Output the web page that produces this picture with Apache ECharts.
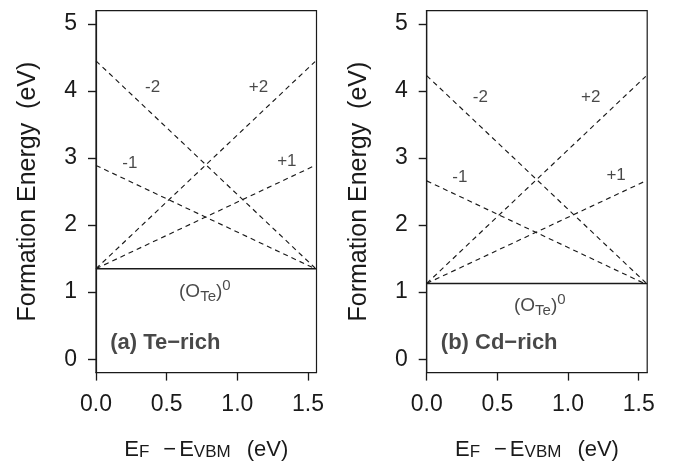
<!DOCTYPE html>
<html>
<head>
<meta charset="utf-8">
<script src="https://cdn.jsdelivr.net/npm/echarts@6/dist/echarts.min.js"></script>
<style>html,body{margin:0;padding:0;background:#fff}#c{width:689px;height:461px}</style>
</head>
<body>
<div id="c"></div>
<script>
// ---- data ----
const xTicks = [0, 0.5, 1.0, 1.5];
const yTicks = [0, 1, 2, 3, 4, 5];
const panelTitles = ['(a) Te\u2212rich', '(b) Cd\u2212rich'];

// Panel (a) Te-rich: [E_F, formation energy]
const teNeutral = [[0, 1.35], [1.56, 1.35]];
const teMinus2 = [[0, 4.45], [1.55, 1.36]];
const teMinus1 = [[0, 2.89], [1.55, 1.35]];
const tePlus1  = [[0, 1.35], [1.55, 2.89]];
const tePlus2  = [[0, 1.35], [1.55, 4.44]];
// charge-state labels: [x, y, text]
const teLabels = [[0.40, 4.05, '-2'], [1.15, 4.05, '+2'], [0.24, 2.92, '-1'], [1.35, 2.95, '+1']];
const teNeutralLabel = [0.77, 1.00];
const teTitlePos = [0.10, 0.24];

// Panel (b) Cd-rich
const cdNeutral = [[0, 1.13], [1.56, 1.13]];
const cdMinus2 = [[0, 4.23], [1.55, 1.14]];
const cdMinus1 = [[0, 2.66], [1.55, 1.12]];
const cdPlus1  = [[0, 1.13], [1.55, 2.66]];
const cdPlus2  = [[0, 1.13], [1.55, 4.22]];
const cdLabels = [[0.38, 3.91, '-2'], [1.16, 3.91, '+2'], [0.235, 2.71, '-1'], [1.34, 2.74, '+1']];
const cdNeutralLabel = [0.80, 0.79];
const cdTitlePos = [0.10, 0.24];

// ---- chart ----
const FONT = 'Liberation Sans, Arial, Helvetica, sans-serif';
const INK = '#1a1a1a';
const chart = echarts.init(document.getElementById('c'), null, {renderer: 'canvas'});

const grids = [
  {left: 96, top: 10.6, width: 220.5, height: 362, show: true, borderColor: INK, borderWidth: 1.2,
   backgroundColor: 'transparent', containLabel: false, outerBoundsMode: 'none'},
  {left: 426.7, top: 10.6, width: 220.5, height: 362, show: true, borderColor: INK, borderWidth: 1.2,
   backgroundColor: 'transparent', containLabel: false, outerBoundsMode: 'none'}
];

function xAxisFor(i) {
  return {
    type: 'value', gridIndex: i, min: 0, max: 1.56, position: 'bottom',
    axisLine: {show: true, onZero: false, lineStyle: {color: INK, width: 1.2}},
    splitLine: {show: false},
    axisTick: {show: true, inside: false, length: 8, customValues: xTicks, lineStyle: {color: INK, width: 1.3}},
    axisLabel: {customValues: xTicks, margin: 21, fontSize: 23, fontFamily: FONT, color: INK,
      formatter: v => v.toFixed(1)},
    name: '{b|E}{s|F}{m|\u2212}{b|E}{s|VBM}{g|(eV)}',
    nameLocation: 'middle', nameGap: 64,
    nameTextStyle: {
      fontFamily: FONT, color: INK,
      rich: {
        b: {fontSize: 22, fontFamily: FONT, color: INK, lineHeight: 26},
        m: {fontSize: 22, fontFamily: FONT, color: INK, lineHeight: 26, padding: [0, 3, 0, 14]},
        g: {fontSize: 22, fontFamily: FONT, color: INK, lineHeight: 26, padding: [0, 0, 0, 16]},
        s: {fontSize: 17, fontFamily: FONT, color: INK, padding: [6, 0, 0, 0]}
      }
    }
  };
}
function yAxisFor(i) {
  return {
    type: 'value', gridIndex: i, min: -0.2, max: 5.2, position: 'left',
    axisLine: {show: true, onZero: false, lineStyle: {color: INK, width: 1.2}},
    splitLine: {show: false},
    axisTick: {show: true, inside: false, length: 8, customValues: yTicks, lineStyle: {color: INK, width: 1.4}},
    axisLabel: {customValues: yTicks, margin: 19, fontSize: 23, fontFamily: FONT, color: INK},
    name: 'Formation Energy  (eV)',
    nameLocation: 'middle', nameGap: 55,
    nameTextStyle: {fontSize: 25, fontFamily: FONT, color: INK}
  };
}

function lineSeries(i, data, dashed) {
  return {
    type: 'line', xAxisIndex: i, yAxisIndex: i, data: data,
    symbol: 'none', silent: true, animation: false,
    lineStyle: dashed ? {color: INK, width: 1.15, type: [5, 4]} : {color: INK, width: 1.5, type: 'solid'}
  };
}

function labelSeries(i, labels) {
  return {
    type: 'scatter', xAxisIndex: i, yAxisIndex: i, symbolSize: 0, silent: true, animation: false,
    data: labels.map(l => ({value: [l[0], l[1]], name: l[2]})),
    label: {show: true, position: 'inside', formatter: p => p.name,
      fontSize: 17, fontFamily: FONT, color: INK}
  };
}

function neutralSeries(i, pos) {
  return {
    type: 'scatter', xAxisIndex: i, yAxisIndex: i, symbolSize: 0, silent: true, animation: false,
    data: [pos],
    label: {show: true, position: 'inside',
      formatter: '{a|(O}{s|Te}{a|)}{p|0}',
      rich: {
        a: {fontSize: 19, fontFamily: FONT, color: INK, lineHeight: 26},
        s: {fontSize: 15, fontFamily: FONT, color: INK, padding: [9, 0, 0, 0]},
        p: {fontSize: 15, fontFamily: FONT, color: INK, padding: [0, 0, 12, 0]}
      }}
  };
}

function titleSeries(i, pos, text) {
  return {
    type: 'scatter', xAxisIndex: i, yAxisIndex: i, symbolSize: 0, silent: true, animation: false,
    data: [pos],
    label: {show: true, position: 'right', distance: 0, formatter: text,
      fontSize: 22, fontWeight: 'bold', fontFamily: FONT, color: INK}
  };
}

const option = {
  animation: false,
  backgroundColor: '#fff',
  grid: grids,
  xAxis: [xAxisFor(0), xAxisFor(1)],
  yAxis: [yAxisFor(0), yAxisFor(1)],
  series: [
    lineSeries(0, teNeutral, false),
    lineSeries(0, teMinus2, true),
    lineSeries(0, teMinus1, true),
    lineSeries(0, tePlus1, true),
    lineSeries(0, tePlus2, true),
    labelSeries(0, teLabels),
    neutralSeries(0, teNeutralLabel),
    titleSeries(0, teTitlePos, panelTitles[0]),
    lineSeries(1, cdNeutral, false),
    lineSeries(1, cdMinus2, true),
    lineSeries(1, cdMinus1, true),
    lineSeries(1, cdPlus1, true),
    lineSeries(1, cdPlus2, true),
    labelSeries(1, cdLabels),
    neutralSeries(1, cdNeutralLabel),
    titleSeries(1, cdTitlePos, panelTitles[1])
  ]
};
chart.setOption(option);
</script>
</body>
</html>
